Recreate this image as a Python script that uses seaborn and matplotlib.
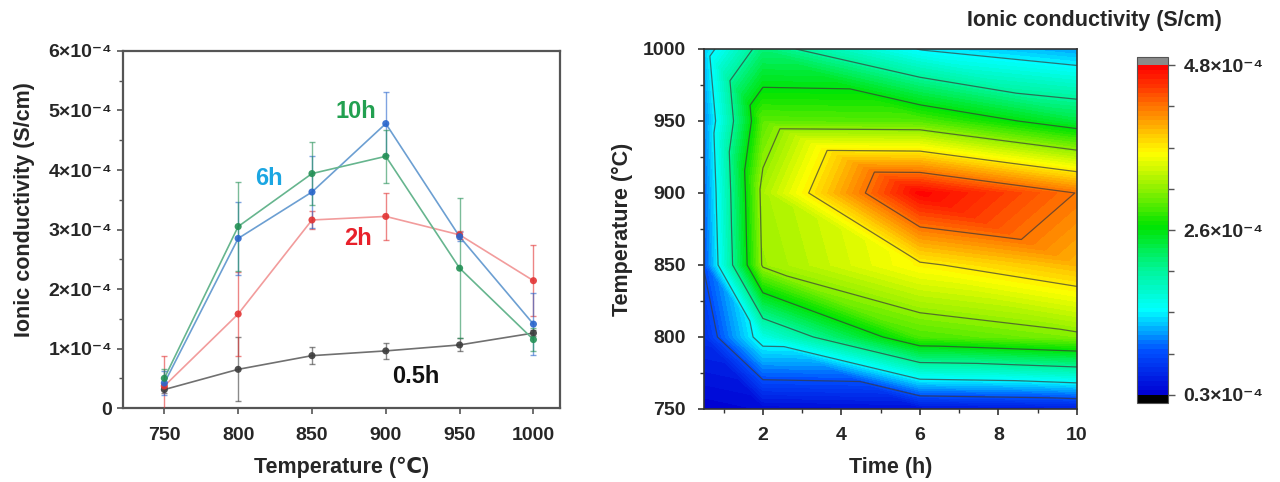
import numpy as np
import pandas as pd
import matplotlib
matplotlib.use("Agg")
import matplotlib.pyplot as plt
import matplotlib.tri as mtri
import seaborn as sns
from matplotlib.colors import LinearSegmentedColormap
from matplotlib.ticker import FixedLocator, MultipleLocator

# ---------------- data (conductivity in units of 1e-4 S/cm) ----------------
temps = [750, 800, 850, 900, 950, 1000]
times = [0.5, 2, 6, 10]
series_names = ["0.5h", "2h", "6h", "10h"]

sigma_05h = [0.31, 0.65, 0.88, 0.96, 1.06, 1.26]
err_05h = [0.05, 0.54, 0.14, 0.13, 0.11, 0.05]
sigma_2h = [0.37, 1.58, 3.16, 3.22, 2.91, 2.14]
err_2h = [0.50, 0.70, 0.15, 0.40, 0.07, 0.60]
sigma_6h = [0.42, 2.85, 3.63, 4.78, 2.88, 1.41]
err_6h = [0.20, 0.62, 0.60, 0.53, 0.07, 0.52]
sigma_10h = [0.50, 3.05, 3.94, 4.23, 2.35, 1.15]
err_10h = [0.15, 0.75, 0.53, 0.45, 1.18, 0.20]

ytick_vals = [0, 1, 2, 3, 4, 5, 6]
ytick_labels = ["0", "1×10⁻⁴", "2×10⁻⁴", "3×10⁻⁴", "4×10⁻⁴", "5×10⁻⁴", "6×10⁻⁴"]
cbar_min, cbar_max = 0.3, 4.8
cbar_labels = ["0.3×10⁻⁴", "2.6×10⁻⁴", "4.8×10⁻⁴"]

# ---------------- style ----------------
sns.set_theme(style="ticks")
plt.rcParams["font.family"] = ["Liberation Sans", "DejaVu Sans"]
plt.rcParams["font.weight"] = "bold"
plt.rcParams["axes.labelweight"] = "bold"

line_colors = {"0.5h": "#707070", "2h": "#f29c9c", "6h": "#6c9fd2", "10h": "#66b58e"}
mark_colors = {"0.5h": "#3c3c3c", "2h": "#e23434", "6h": "#2a66cc", "10h": "#239055"}
text_colors = {"0.5h": "#111111", "2h": "#e8202a", "6h": "#1ba6e2", "10h": "#22a050"}
label_pos = {"0.5h": (920, 0.53), "2h": (881, 2.85), "6h": (821, 3.86), "10h": (880, 4.98)}

sig = {"0.5h": sigma_05h, "2h": sigma_2h, "6h": sigma_6h, "10h": sigma_10h}
err = {"0.5h": err_05h, "2h": err_2h, "6h": err_6h, "10h": err_10h}

df = pd.DataFrame({
    "temp": np.tile(temps, len(series_names)),
    "sigma": np.concatenate([sig[s] for s in series_names]),
    "err": np.concatenate([err[s] for s in series_names]),
    "series": np.repeat(series_names, len(temps)),
})

fig = plt.figure(figsize=(12.8, 4.82), dpi=100)

# ---------------- left panel ----------------
ax1 = fig.add_axes([0.0961, 0.1535, 0.3414, 0.7407])
sns.lineplot(data=df, x="temp", y="sigma", hue="series", palette=line_colors,
             ax=ax1, linewidth=1.2, legend=False, zorder=2)
for s in series_names:
    d = df[df.series == s]
    ax1.errorbar(d.temp, d.sigma, yerr=d.err, fmt="none", ecolor=mark_colors[s],
                 elinewidth=1.0, capsize=2, capthick=1.0, alpha=0.6, zorder=3)
    ax1.text(*label_pos[s], s, color=text_colors[s], fontsize=17, fontweight="bold",
             ha="center", va="center")
sns.scatterplot(data=df, x="temp", y="sigma", hue="series", palette=mark_colors,
                ax=ax1, s=26, edgecolor="none", alpha=0.9, legend=False, zorder=4)

ax1.set_xlim(722, 1018)
ax1.set_ylim(0, 6)
ax1.set_xticks(temps)
ax1.yaxis.set_major_locator(FixedLocator(ytick_vals))
ax1.set_yticklabels(ytick_labels)
ax1.yaxis.set_minor_locator(MultipleLocator(0.5))
ax1.tick_params(axis="both", which="major", labelsize=14, direction="out", length=4,
                width=1.2, color="#555555", pad=4)
ax1.tick_params(axis="x", which="major", pad=10)
ax1.tick_params(axis="y", which="minor", direction="out", length=3, width=1.0, color="#555555")
for sp in ax1.spines.values():
    sp.set_color("#555555")
    sp.set_linewidth(1.6)
ax1.set_xlabel("Temperature (℃)", fontsize=15.5, fontweight="bold")
ax1.set_ylabel("Ionic conductivity (S/cm)", fontsize=15.5, fontweight="bold")
ax1.yaxis.set_label_coords(-0.201, 0.557)
ax1.xaxis.set_label_coords(0.5, -0.137)

# ---------------- right panel ----------------
Z = np.column_stack([sig[s] for s in series_names])  # rows: temps, cols: times
TT, HH = np.meshgrid(times, temps)
nt, nT = len(times), len(temps)
triangles = []
for i in range(nT - 1):
    for j in range(nt - 1):
        a, b = i * nt + j, i * nt + j + 1
        c, d = (i + 1) * nt + j, (i + 1) * nt + j + 1
        triangles.append([a, b, c])
        triangles.append([b, d, c])
tri = mtri.Triangulation(TT.ravel(), HH.ravel(), triangles)

cmap = LinearSegmentedColormap.from_list("origin_rainbow", [
    (0.0, "#0000d2"),
    ((0.9 - 0.3) / 4.5, "#0050ff"),
    ((1.45 - 0.3) / 4.5, "#00ffff"),
    ((2.0 - 0.3) / 4.5, "#00f59a"),
    ((2.6 - 0.3) / 4.5, "#00e400"),
    ((3.1 - 0.3) / 4.5, "#8cf000"),
    ((3.6 - 0.3) / 4.5, "#ffff00"),
    ((4.1 - 0.3) / 4.5, "#ff9400"),
    ((4.5 - 0.3) / 4.5, "#ff3a00"),
    (1.0, "#ff0000"),
])
cmap.set_under("#000000")
cmap.set_over("#8a8a8a")

fill_levels = np.linspace(cbar_min, cbar_max, 73)
line_levels = np.linspace(cbar_min, cbar_max, 9)[1:-1]

ax2 = fig.add_axes([0.55, 0.1515, 0.2914, 0.7469])
cf = ax2.tricontourf(tri, Z.ravel(), levels=fill_levels, cmap=cmap, extend="both")
ax2.tricontour(tri, Z.ravel(), levels=line_levels, colors="#3a3a3a", linewidths=0.9, alpha=0.7)
ax2.set_xlim(0.5, 10)
ax2.set_ylim(750, 1000)
ax2.set_xticks([2, 4, 6, 8, 10])
ax2.xaxis.set_minor_locator(FixedLocator([1, 3, 5, 7, 9]))
ax2.set_yticks(temps)
ax2.yaxis.set_minor_locator(FixedLocator([775, 825, 875, 925, 975]))
ax2.tick_params(axis="both", which="major", labelsize=14, direction="out", length=4,
                width=1.2, color="#333333", pad=9)
ax2.tick_params(axis="both", which="minor", direction="out", length=3, width=1.0, color="#333333")
for sp in ax2.spines.values():
    sp.set_color("#333333")
    sp.set_linewidth(1.2)
ax2.set_xlabel("Time (h)", fontsize=15.5, fontweight="bold")
ax2.set_ylabel("Temperature (°C)", fontsize=15.5, fontweight="bold")
ax2.yaxis.set_label_coords(-0.19, 0.5)
ax2.xaxis.set_label_coords(0.5, -0.133)

# ---------------- colorbar ----------------
cax = fig.add_axes([0.8883, 0.1639, 0.0242, 0.7178])
cb = fig.colorbar(cf, cax=cax, extend="both", extendrect=True, extendfrac=0.025)
cb.outline.set_edgecolor("#555555")
cb.outline.set_linewidth(0.8)
cb.set_ticks([cbar_min, (cbar_min + cbar_max) / 2, cbar_max])
cb.set_ticklabels(cbar_labels)
cb.ax.yaxis.set_minor_locator(FixedLocator(np.linspace(cbar_min, cbar_max, 9)))
cb.ax.tick_params(which="major", labelsize=14, length=5, width=1.0, color="#555555", pad=6)
cb.ax.tick_params(which="minor", length=4, width=1.0, color="#555555")
fig.text(0.855, 0.958, "Ionic conductivity (S/cm)", fontsize=15.5, fontweight="bold",
         ha="center", va="center")

fig.savefig("out.png", dpi=100)
